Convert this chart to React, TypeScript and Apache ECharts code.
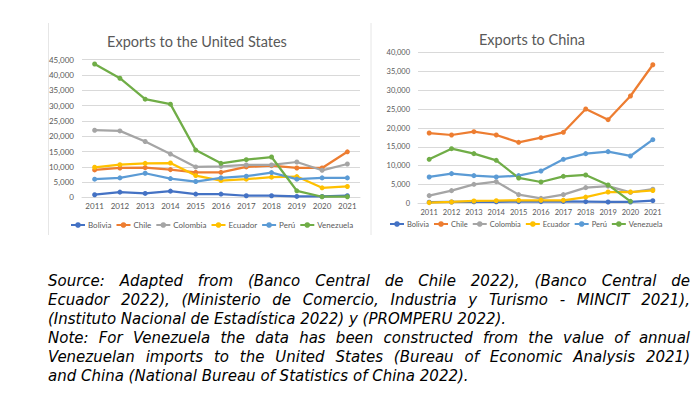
import React, { useEffect, useRef } from "react";
import * as echarts from "echarts";

const years = ["2011", "2012", "2013", "2014", "2015", "2016", "2017", "2018", "2019", "2020", "2021"];
const countries = ["Bolivia", "Chile", "Colombia", "Ecuador", "Perú", "Venezuela"];
const colors = ["#4472C4", "#ED7D31", "#A5A5A5", "#FFC000", "#5B9BD5", "#70AD47"];

// Exports to the United States
const usBolivia = [870, 1730, 1300, 2050, 1080, 1080, 540, 540, 320, 320, 540];
const usChile = [8970, 9620, 9730, 9080, 8200, 8200, 9950, 10380, 9620, 9620, 14900];
const usColombia = [21950, 21730, 18270, 14160, 9950, 10160, 10600, 10600, 11570, 8860, 10920];
const usEcuador = [9840, 10700, 11130, 11240, 7130, 5510, 5950, 6600, 6810, 3130, 3570];
const usPeru = [5950, 6380, 7890, 6160, 5190, 6380, 6920, 8110, 5950, 6380, 6380];
const usVenezuela = [43600, 38950, 32100, 30470, 15460, 11130, 12320, 13190, 2160, 220, 220];

// Exports to China
const cnBolivia = [300, 350, 400, 400, 450, 450, 500, 450, 350, 350, 700];
const cnChile = [18670, 18140, 19030, 18140, 16200, 17430, 18850, 25050, 22210, 28500, 36800];
const cnColombia = [2040, 3360, 5040, 5750, 2300, 1330, 2300, 4160, 4550, 2900, 3750];
const cnEcuador = [180, 350, 620, 700, 800, 800, 800, 1650, 3000, 3000, 3400];
const cnPeru = [6990, 7880, 7350, 6990, 7350, 8580, 11680, 13190, 13720, 12570, 16900];
const cnVenezuela = [11680, 14510, 13190, 11420, 6730, 5660, 7170, 7520, 4870, 530, null];

const usData = [usBolivia, usChile, usColombia, usEcuador, usPeru, usVenezuela];
const cnData = [cnBolivia, cnChile, cnColombia, cnEcuador, cnPeru, cnVenezuela];

const noteLines = [
  "Source: Adapted from (Banco Central de Chile 2022), (Banco Central de",
  "Ecuador 2022), (Ministerio de Comercio, Industria y Turismo - MINCIT 2021),",
  "(Instituto Nacional de Estadística 2022) y (PROMPERU 2022).",
  "Note: For Venezuela the data has been constructed from the value of annual",
  "Venezuelan imports to the United States (Bureau of Economic Analysis 2021)",
  "and China (National Bureau of Statistics of China 2022).",
];
const justifiedLines = [true, true, false, true, true, false];

const FONT = "Lato";
const GREY = "#595959";
const GRID = "#d9d9d9";

const fmt = (v: number) => v.toLocaleString("en-US");

function axisPair(idx: number, max: number, fs: number) {
  return {
    x: {
      type: "category",
      gridIndex: idx,
      data: years,
      boundaryGap: true,
      axisLine: { lineStyle: { color: GRID } },
      axisTick: { show: false },
      axisLabel: { color: GREY, fontSize: fs, fontFamily: FONT, margin: 5, interval: 0 },
    },
    y: {
      type: "value",
      gridIndex: idx,
      min: 0,
      max,
      interval: 5000,
      axisLine: { show: false },
      axisTick: { show: false },
      splitLine: { lineStyle: { color: GRID } },
      axisLabel: { color: GREY, fontSize: fs, fontFamily: FONT, margin: 8, formatter: fmt },
    },
  };
}

export default function App() {
  const ref = useRef<HTMLDivElement>(null);
  useEffect(() => {
    const chart = echarts.init(ref.current!, null, { renderer: "svg" });
    const a0 = axisPair(0, 45000, 8);
    const a1 = axisPair(1, 40000, 7.5);
    const mkSeries = (data: (number | null)[][], idx: number) =>
      countries.map((name, i) => ({
        name,
        type: "line",
        xAxisIndex: idx,
        yAxisIndex: idx,
        data: data[i],
        symbol: "circle",
        symbolSize: 5,
        color: colors[i],
        lineStyle: { width: 2.25, color: colors[i] },
        itemStyle: { color: colors[i] },
      }));
    chart.setOption({
      animation: false,
      backgroundColor: "#fff",
      title: [
        {
          text: "Exports to the United States",
          left: 192,
          top: 29,
          textAlign: "center",
          textStyle: { color: GREY, fontSize: 14.5, fontWeight: "normal", fontFamily: FONT },
        },
        {
          text: "Exports to China",
          left: 527,
          top: 27,
          textAlign: "center",
          textStyle: { color: GREY, fontSize: 14.5, fontWeight: "normal", fontFamily: FONT },
        },
      ],
      legend: [
        {
          data: countries,
          left: 70,
          top: 221,
          width: 320,
          itemWidth: 14,
          itemHeight: 7,
          itemGap: 4,
          padding: 0,
          textStyle: { color: GREY, fontSize: 8, fontFamily: FONT, padding: [0, 0, 0, -2] },
        },
        {
          data: countries,
          left: 389,
          top: 220,
          width: 305,
          itemWidth: 14,
          itemHeight: 7,
          itemGap: 4,
          padding: 0,
          textStyle: { color: GREY, fontSize: 7.5, fontFamily: FONT, padding: [0, 0, 0, -2] },
        },
      ],
      grid: [
        { left: 82, top: 59.7, width: 278, height: 137.7, containLabel: false },
        { left: 418, top: 52.7, width: 246, height: 150.6, containLabel: false },
      ],
      xAxis: [a0.x, a1.x],
      yAxis: [a0.y, a1.y],
      series: [...mkSeries(usData, 0), ...mkSeries(cnData, 1)],
      graphic: [
        { type: "line", shape: { x1: 48.5, y1: 23, x2: 48.5, y2: 235 }, style: { stroke: "#e6e6e6", lineWidth: 1 } },
        { type: "line", shape: { x1: 371, y1: 23, x2: 371, y2: 235 }, style: { stroke: "#e6e6e6", lineWidth: 1 } },
      ],
    });
    return () => chart.dispose();
  }, []);
  return (
    <div style={{ position: "fixed", left: 0, top: 0, width: 700, height: 394, background: "#fff" }}>
      <div ref={ref} style={{ position: "absolute", left: 0, top: 0, width: 700, height: 394 }} />
      <div
        style={{
          position: "absolute",
          left: 48,
          top: 272,
          width: 642,
          fontFamily: "'DejaVu Sans', Verdana, sans-serif",
          fontStyle: "italic",
          fontSize: 15,
          lineHeight: "19px",
          color: "#000",
        }}
      >
        {noteLines.map((line, i) => (
          <div
            key={i}
            style={{
              textAlign: justifiedLines[i] ? "justify" : "left",
              textAlignLast: justifiedLines[i] ? "justify" : "left",
              whiteSpace: "nowrap",
            }}
          >
            {line}
          </div>
        ))}
      </div>
    </div>
  );
}
